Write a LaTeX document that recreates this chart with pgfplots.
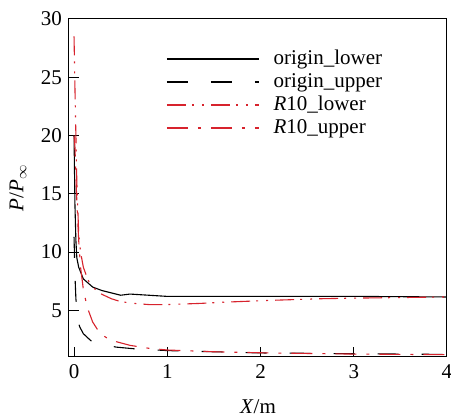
\documentclass[border=0pt]{standalone}
\usepackage{pgfplots}
\pgfplotsset{compat=1.18}
\usepackage{fontspec}
\setmainfont{Liberation Serif}
\definecolor{myred}{RGB}{215,35,45}
\begin{document}
\fontsize{21}{24}\selectfont
\begin{tikzpicture}
\begin{axis}[
 scale only axis, width=378pt, height=338pt,
 xmin=-0.054, xmax=4, ymin=1, ymax=30,
 xtick={0,1,2,3,4}, ytick={5,10,15,20,25,30},
 tick align=inside, xtick pos=bottom, ytick pos=left,
 major tick length=10pt,
 axis line style={line width=1pt},
 tick style={line width=1pt, black},
 /pgf/number format/assume math mode=true,
 tick label style={font=\fontsize{21}{24}\selectfont},
 xlabel={\textit{X}/m}, ylabel={\textit{P}/\textit{P}$_\infty$},
 xlabel style={at={(axis description cs:0.5,-0.148)}, anchor=center},
 ylabel style={at={(axis description cs:-0.135,0.5)}, anchor=center},
 legend style={draw=none, fill=none, at={(0.249,0.92)}, anchor=north west,
   font=\fontsize{21}{24}\selectfont, row sep=1.6pt,
   /tikz/every odd column/.append style={column sep=12pt}},
 legend cell align=left,
]
\addplot[draw=black, line width=1.1pt, forget plot] coordinates {
(0,20)(0.01,14)(0.02,11)(0.03,9.5)(0.05,8.7)(0.1,7.7)(0.2,7.0)(0.3,6.7)(0.4,6.5)(0.5,6.3)(0.6,6.4)(0.8,6.3)(1,6.2)(1.5,6.2)(2,6.2)(3,6.2)(4,6.15)};
\addplot[draw=black, line width=1.1pt, dash pattern=on 21pt off 23pt, forget plot] coordinates {
(0,11.3)(0.01,8)(0.02,6)(0.04,4.2)(0.06,3.6)(0.1,3.0)(0.18,2.4)(0.3,2.1)(0.45,1.85)(0.65,1.7)(1,1.55)(1.5,1.45)(2,1.35)(3,1.28)(4,1.22)};
\addplot[color=myred, line width=1.1pt, dash pattern=on 19pt off 6pt on 2pt off 8pt on 2pt off 7pt, forget plot] coordinates {
(0,28.5)(0.01,24)(0.02,20)(0.03,16)(0.05,11.6)(0.07,10)(0.1,8.7)(0.15,7.6)(0.2,7.0)(0.28,6.45)(0.4,6.0)(0.5,5.75)(0.64,5.6)(0.8,5.5)(1,5.5)(1.36,5.6)(1.6,5.7)(2.07,5.85)(2.65,6.0)(3,6.05)(3.5,6.1)(4,6.15)};
\addplot[color=myred, line width=1.1pt, dash pattern=on 21pt off 10pt on 3pt off 10pt, forget plot] coordinates {
(0,20)(0.01,19)(0.02,16.5)(0.03,14.4)(0.05,11)(0.07,8.7)(0.1,6.8)(0.14,5.3)(0.2,4)(0.28,3.0)(0.36,2.6)(0.46,2.3)(0.6,2.0)(0.8,1.75)(1,1.6)(1.5,1.45)(2.07,1.35)(3,1.25)(4,1.2)};
\addlegendimage{legend image code/.code={\draw[black, line width=1.3pt] (0pt,0pt) -- (92pt,0pt);}}
\addlegendentry{origin\_lower}
\addlegendimage{legend image code/.code={\draw[black, line width=1.3pt, dash pattern=on 21pt off 23pt] (0pt,0pt) -- (92pt,0pt);}}
\addlegendentry{origin\_upper}
\addlegendimage{legend image code/.code={\draw[myred, line width=1.3pt, dash pattern=on 19pt off 6pt on 2pt off 8pt on 2pt off 7pt] (0pt,0pt) -- (92pt,0pt);}}
\addlegendentry{\textit{R}10\_lower}
\addlegendimage{legend image code/.code={\draw[myred, line width=1.3pt, dash pattern=on 21pt off 10pt on 3pt off 10pt] (0pt,0pt) -- (92pt,0pt);}}
\addlegendentry{\textit{R}10\_upper}
\end{axis}
\pgfresetboundingbox
\path (-69pt,-61pt) rectangle (382pt,357pt);
\end{tikzpicture}
\end{document}
